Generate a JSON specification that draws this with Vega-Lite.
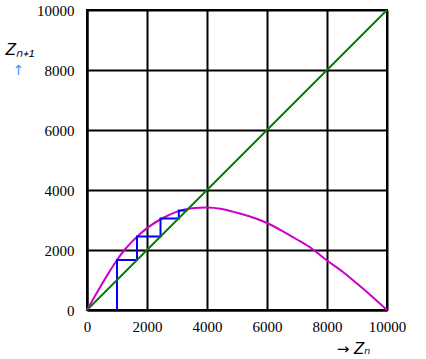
{
  "$schema": "https://vega.github.io/schema/vega-lite/v6.json",
  "width": 300,
  "height": 300,
  "autosize": {"type": "none"},
  "padding": {"left": 87, "top": 10, "right": 39, "bottom": 49},
  "background": "white",
  "config": {
    "view": {"stroke": "black", "strokeWidth": 2},
    "axis": {
      "labelFont": "Liberation Serif, Times New Roman, serif",
      "labelFontSize": 15,
      "labelColor": "black",
      "labelFlush": false,
      "format": "d",
      "titleFont": "Liberation Sans",
      "titleFontStyle": "italic",
      "titleFontWeight": "normal",
      "titleColor": "black",
      "ticks": false,
      "domainColor": "black",
      "domainWidth": 2,
      "gridColor": "black",
      "gridWidth": 2,
      "gridOpacity": 1
    }
  },
  "data": {
    "values": [
      {"series": "curve", "i": 0, "x": 0, "y": 0},
      {"series": "curve", "i": 1, "x": 250, "y": 440},
      {"series": "curve", "i": 2, "x": 500, "y": 870},
      {"series": "curve", "i": 3, "x": 750, "y": 1280},
      {"series": "curve", "i": 4, "x": 1000, "y": 1667},
      {"series": "curve", "i": 5, "x": 1250, "y": 2000},
      {"series": "curve", "i": 6, "x": 1500, "y": 2280},
      {"series": "curve", "i": 7, "x": 1750, "y": 2520},
      {"series": "curve", "i": 8, "x": 2000, "y": 2730},
      {"series": "curve", "i": 9, "x": 2500, "y": 3050},
      {"series": "curve", "i": 10, "x": 3000, "y": 3280},
      {"series": "curve", "i": 11, "x": 3500, "y": 3395},
      {"series": "curve", "i": 12, "x": 4000, "y": 3420},
      {"series": "curve", "i": 13, "x": 4500, "y": 3370},
      {"series": "curve", "i": 14, "x": 5000, "y": 3240},
      {"series": "curve", "i": 15, "x": 5500, "y": 3090},
      {"series": "curve", "i": 16, "x": 6000, "y": 2900},
      {"series": "curve", "i": 17, "x": 6500, "y": 2640},
      {"series": "curve", "i": 18, "x": 7000, "y": 2350},
      {"series": "curve", "i": 19, "x": 7500, "y": 2040},
      {"series": "curve", "i": 20, "x": 8000, "y": 1650},
      {"series": "curve", "i": 21, "x": 8500, "y": 1290},
      {"series": "curve", "i": 22, "x": 9000, "y": 880},
      {"series": "curve", "i": 23, "x": 9500, "y": 450},
      {"series": "curve", "i": 24, "x": 10000, "y": 0},
      {"series": "cobweb", "i": 0, "x": 1000, "y": 0},
      {"series": "cobweb", "i": 1, "x": 1000, "y": 1667},
      {"series": "cobweb", "i": 2, "x": 1667, "y": 1667},
      {"series": "cobweb", "i": 3, "x": 1667, "y": 2450},
      {"series": "cobweb", "i": 4, "x": 2450, "y": 2450},
      {"series": "cobweb", "i": 5, "x": 2450, "y": 3050},
      {"series": "cobweb", "i": 6, "x": 3060, "y": 3050},
      {"series": "cobweb", "i": 7, "x": 3060, "y": 3320},
      {"series": "cobweb", "i": 8, "x": 3350, "y": 3320},
      {"series": "diagonal", "i": 0, "x": 0, "y": 0},
      {"series": "diagonal", "i": 1, "x": 10000, "y": 10000}
    ]
  },
  "layer": [
    {
      "layer": [
        {
          "transform": [{"filter": "datum.series == 'curve'"}],
          "mark": {"type": "line", "color": "#cc00cc", "strokeWidth": 2, "interpolate": "monotone"},
          "encoding": {
            "x": {
              "field": "x", "type": "quantitative",
              "scale": {"domain": [0, 10000], "nice": false},
              "axis": {
                "values": [0, 2000, 4000, 6000, 8000, 10000],
                "format": "d",
                "labelFont": "Liberation Serif, Times New Roman, serif",
                "labelFlush": false,
                "grid": true,
                "labelPadding": 9,
                "title": "→ Zₙ",
                "titleFont": "DejaVu Sans",
                "titleFontSize": 15,
                "titleAngle": 0,
                "titleAlign": "center",
                "titleBaseline": "alphabetic",
                "titleX": 266,
                "titleY": 43
              }
            },
            "y": {
              "field": "y", "type": "quantitative",
              "scale": {"domain": [0, 10000], "nice": false},
              "axis": {
                "values": [0, 2000, 4000, 6000, 8000, 10000],
                "format": "d",
                "labelFont": "Liberation Serif, Times New Roman, serif",
                "grid": true,
                "labelPadding": 13,
                "title": "Zₙ₊₁",
                "titleFontSize": 17,
                "titleAngle": 0,
                "titleAlign": "left",
                "titleBaseline": "alphabetic",
                "titleX": -82,
                "titleY": 44
              }
            },
            "order": {"field": "i", "type": "quantitative"}
          }
        },
        {
          "transform": [{"filter": "datum.series == 'cobweb'"}],
          "mark": {"type": "line", "color": "#0000ff", "strokeWidth": 2},
          "encoding": {
            "x": {"field": "x", "type": "quantitative"},
            "y": {"field": "y", "type": "quantitative"},
            "order": {"field": "i", "type": "quantitative"}
          }
        }
      ]
    },
    {
      "transform": [{"filter": "datum.series == 'diagonal'"}],
      "mark": {"type": "line", "color": "#008000", "strokeWidth": 2},
      "encoding": {
        "x": {"field": "x", "type": "quantitative"},
        "y": {
          "field": "y", "type": "quantitative",
          "scale": {"domain": [0, 10000], "nice": false},
          "axis": {
            "orient": "right",
            "labels": false,
            "ticks": false,
            "domain": false,
            "grid": false,
            "title": "↑",
            "titleColor": "#3399ff",
            "titleFont": "DejaVu Sans",
            "titleFontStyle": "normal",
            "titleFontSize": 14,
            "titleAngle": 0,
            "titleAlign": "center",
            "titleBaseline": "alphabetic",
            "titleX": -369,
            "titleY": 64
          }
        },
        "order": {"field": "i", "type": "quantitative"}
      }
    }
  ],
  "resolve": {"scale": {"y": "independent"}, "axis": {"y": "independent"}}
}
